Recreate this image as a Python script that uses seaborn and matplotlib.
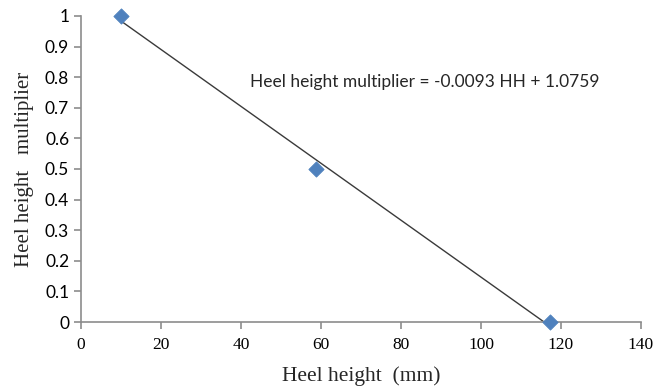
import pandas as pd
import matplotlib.pyplot as plt
import seaborn as sns

# Data
heel_height = [10, 58.75, 117.25]
multiplier = [1.0, 0.5, 0.0]
x_ticks = [0, 20, 40, 60, 80, 100, 120, 140]
y_ticks = [0, 0.1, 0.2, 0.3, 0.4, 0.5, 0.6, 0.7, 0.8, 0.9, 1]
equation = "Heel height multiplier = -0.0093 HH + 1.0759"

data = pd.DataFrame({"HH": heel_height, "mult": multiplier})

sns.set_theme(style="white")

fig = plt.figure(figsize=(6.55, 3.88), dpi=100)
ax = fig.add_axes([0.1237, 0.1701, 0.8549, 0.7887])

# Linear trend line through the points
sns.regplot(data=data, x="HH", y="mult", ci=None, scatter=False, ax=ax,
            line_kws={"color": "#3a3a3a", "lw": 1.0})

# Data points
sns.scatterplot(data=data, x="HH", y="mult", marker="D", s=60,
                color="#4F81BD", edgecolor="#4F81BD", ax=ax, zorder=3, clip_on=False)

ax.set_xlim(0, 140)
ax.set_ylim(0, 1)
ax.set_xticks(x_ticks)
ax.set_yticks(y_ticks)
ax.set_xticklabels([str(v) for v in x_ticks], family="Liberation Serif", fontsize=12.5)
ax.set_yticklabels([f"{v:g}" for v in y_ticks], family="Lato", fontsize=12.5)

for side in ["top", "right"]:
    ax.spines[side].set_visible(False)
for side in ["left", "bottom"]:
    ax.spines[side].set_color("#8c8c8c")
    ax.spines[side].set_linewidth(1.2)
ax.tick_params(axis="both", direction="out", length=5, width=1.2, color="#8c8c8c",
               bottom=True, left=True, labelcolor="black")
ax.tick_params(axis="x", pad=6)

ax.set_xlabel("Heel height  (mm)", family="Liberation Serif", fontsize=15.5, labelpad=9)
ax.set_ylabel("Heel height   multiplier", family="Liberation Serif", fontsize=15, labelpad=8)

ax.text(86, 0.784, equation, family="Lato", fontsize=12.5, ha="center", va="center")

fig.savefig("out.png", dpi=100)
